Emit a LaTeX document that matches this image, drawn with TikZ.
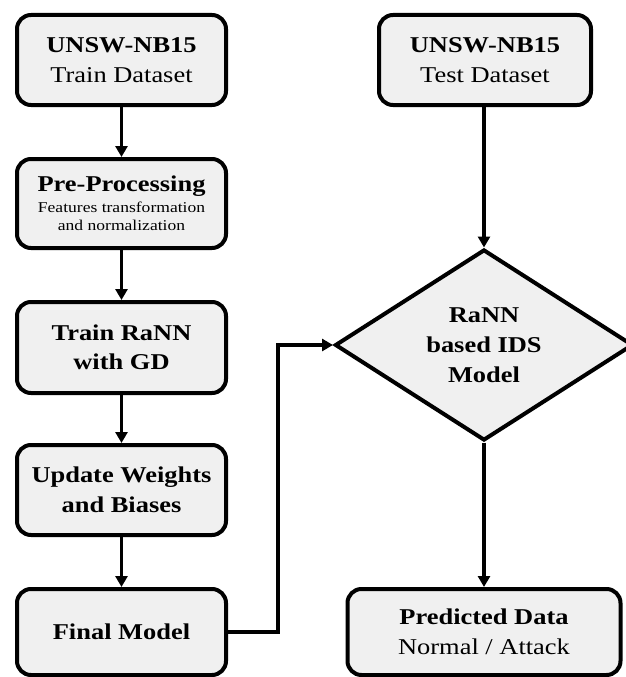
\documentclass[tikz,border=0pt]{standalone}
\usepackage{fontspec}
\setmainfont[FakeStretch=1.17]{Liberation Serif}
\usetikzlibrary{shapes.geometric,arrows.meta}
\definecolor{boxfill}{RGB}{240,240,240}
\newcommand{\smalltxt}{\fontsize{15}{17.5}\selectfont}
\begin{document}
\begin{tikzpicture}[x=1pt,y=-1pt,
  box/.style={draw,line width=4pt,rounded corners=14pt,fill=boxfill,
    minimum width=209pt,minimum height=90pt,align=center,inner sep=0pt,
    font=\fontsize{22.6}{30}\selectfont},
  dia/.style={draw,line width=4pt,diamond,fill=boxfill,inner sep=0pt,
    minimum width=298pt,minimum height=191pt,align=center,
    font=\fontsize{22.6}{30}\selectfont\bfseries},
  arr/.style={line width=3.5pt,-{Triangle[width=12pt,length=11pt]}}]
\clip (0,0) rectangle (626,677);
\node[box] (train) at (121.5,60) {\textbf{UNSW-NB15}\\Train Dataset};
\node[box,minimum height=89pt] (pre) at (121.5,203.5)
  {\textbf{Pre-Processing}\\[-9pt]\smalltxt Features transformation\\[-12pt]\smalltxt \raisebox{0pt}[0pt][0pt]{and normalization}};
\node[box,font=\fontsize{22.6}{28.5}\selectfont\bfseries,minimum height=91pt] (rann) at (121.5,347.5) {Train RaNN\\with GD};
\node[box,font=\fontsize{22.6}{30}\selectfont\bfseries] (upd) at (121.5,490) {Update Weights\\and Biases};
\node[box,font=\fontsize{22.6}{30}\selectfont\bfseries,minimum height=86pt] (final) at (121.5,632) {Final Model};
\node[box,minimum width=212pt] (test) at (485,60) {\textbf{UNSW-NB15}\\Test Dataset};
\node[dia] (ids) at (484,345) {RaNN\\based IDS\\Model};
\node[box,minimum width=273pt,minimum height=86pt] (pred) at (484,632) {\textbf{Predicted Data}\\Normal / Attack};
\coordinate (bend) at (278,632);
\draw[arr] (train) -- (pre);
\draw[arr] (pre) -- (rann);
\draw[arr] (rann) -- (upd);
\draw[arr] (upd) -- (final);
\draw[arr] (test.south -| ids.north) -- (ids.north);
\draw[arr] (ids) -- (pred);
\draw[arr] (final.east) -- (bend) |- (ids.west);
\end{tikzpicture}
\end{document}
